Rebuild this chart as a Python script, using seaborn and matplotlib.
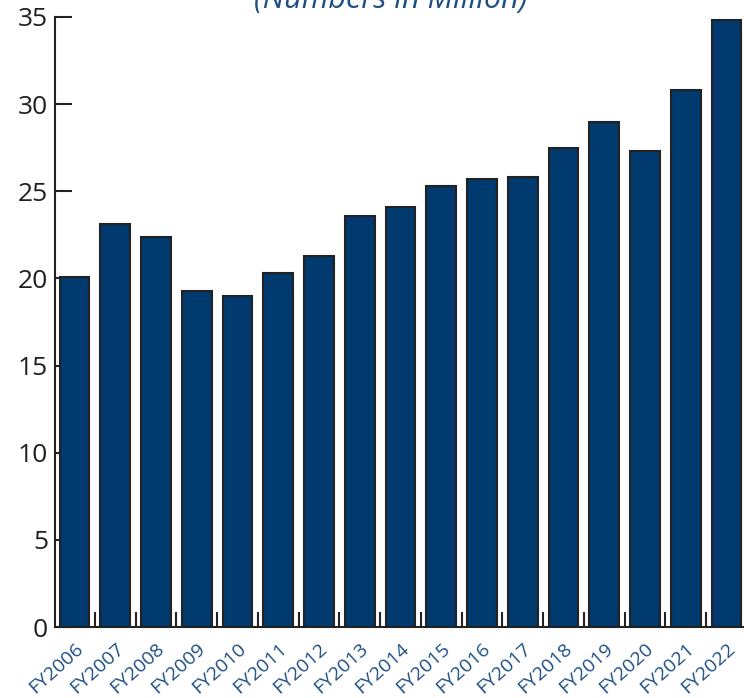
import seaborn as sns
import matplotlib.pyplot as plt
import matplotlib.transforms as mtransforms
import pandas as pd
import numpy as np

years = ['FY2006', 'FY2007', 'FY2008', 'FY2009', 'FY2010', 'FY2011', 'FY2012',
         'FY2013', 'FY2014', 'FY2015', 'FY2016', 'FY2017', 'FY2018', 'FY2019',
         'FY2020', 'FY2021', 'FY2022']
values = [20.1, 23.1, 22.4, 19.3, 19.0, 20.3, 21.3, 23.6, 24.1, 25.3, 25.7,
          25.8, 27.5, 29.0, 27.3, 30.8, 34.8]
y_ticks = [0, 5, 10, 15, 20, 25, 30, 35]

bar_color = '#003a6e'
label_color = '#1d4f85'

sns.set_style('white')
plt.rcParams['font.family'] = ['Open Sans', 'DejaVu Sans']

df = pd.DataFrame({'year': years, 'value': values})

fig = plt.figure(figsize=(7.44, 6.98), dpi=100)
ax = fig.add_axes([0.074, 0.1017, 0.93, 0.874])

sns.barplot(data=df, x='year', y='value', color=bar_color, saturation=1,
            width=0.73, edgecolor='#222222', linewidth=1.5, ax=ax)

ax.set_xlim(-0.48, len(years) - 0.5)
ax.set_ylim(0, 35)
ax.set_yticks(y_ticks)
ax.set_xlabel('')
ax.set_ylabel('')

for s in ['top', 'right']:
    ax.spines[s].set_visible(False)
for s in ['left', 'bottom']:
    ax.spines[s].set_color('#222222')
    ax.spines[s].set_linewidth(1.5)

ax.tick_params(axis='y', left=True, direction='in', length=12, width=1.5,
               color='#222222', labelsize=19, labelcolor='#231f20', pad=5)
ax.tick_params(axis='x', which='major', bottom=False, labelsize=14,
               labelcolor=label_color, pad=3)
ax.set_xticks(np.arange(len(years) - 1) + 0.5, minor=True)
ax.tick_params(axis='x', which='minor', bottom=True, direction='in', length=11,
               width=1.5, color='#222222')

shift = mtransforms.ScaledTranslation(6 / 100, -10 / 100, fig.dpi_scale_trans)
for lbl in ax.get_xticklabels():
    lbl.set_rotation(42)
    lbl.set_ha('right')
    lbl.set_va('center')
    lbl.set_rotation_mode('anchor')
    lbl.set_transform(lbl.get_transform() + shift)

fig.text(0.525, 1 - 8 / 698, '(Numbers in Million)', ha='center',
         va='baseline', fontsize=22, style='italic', color=label_color)

fig.savefig('out.png', dpi=100)
